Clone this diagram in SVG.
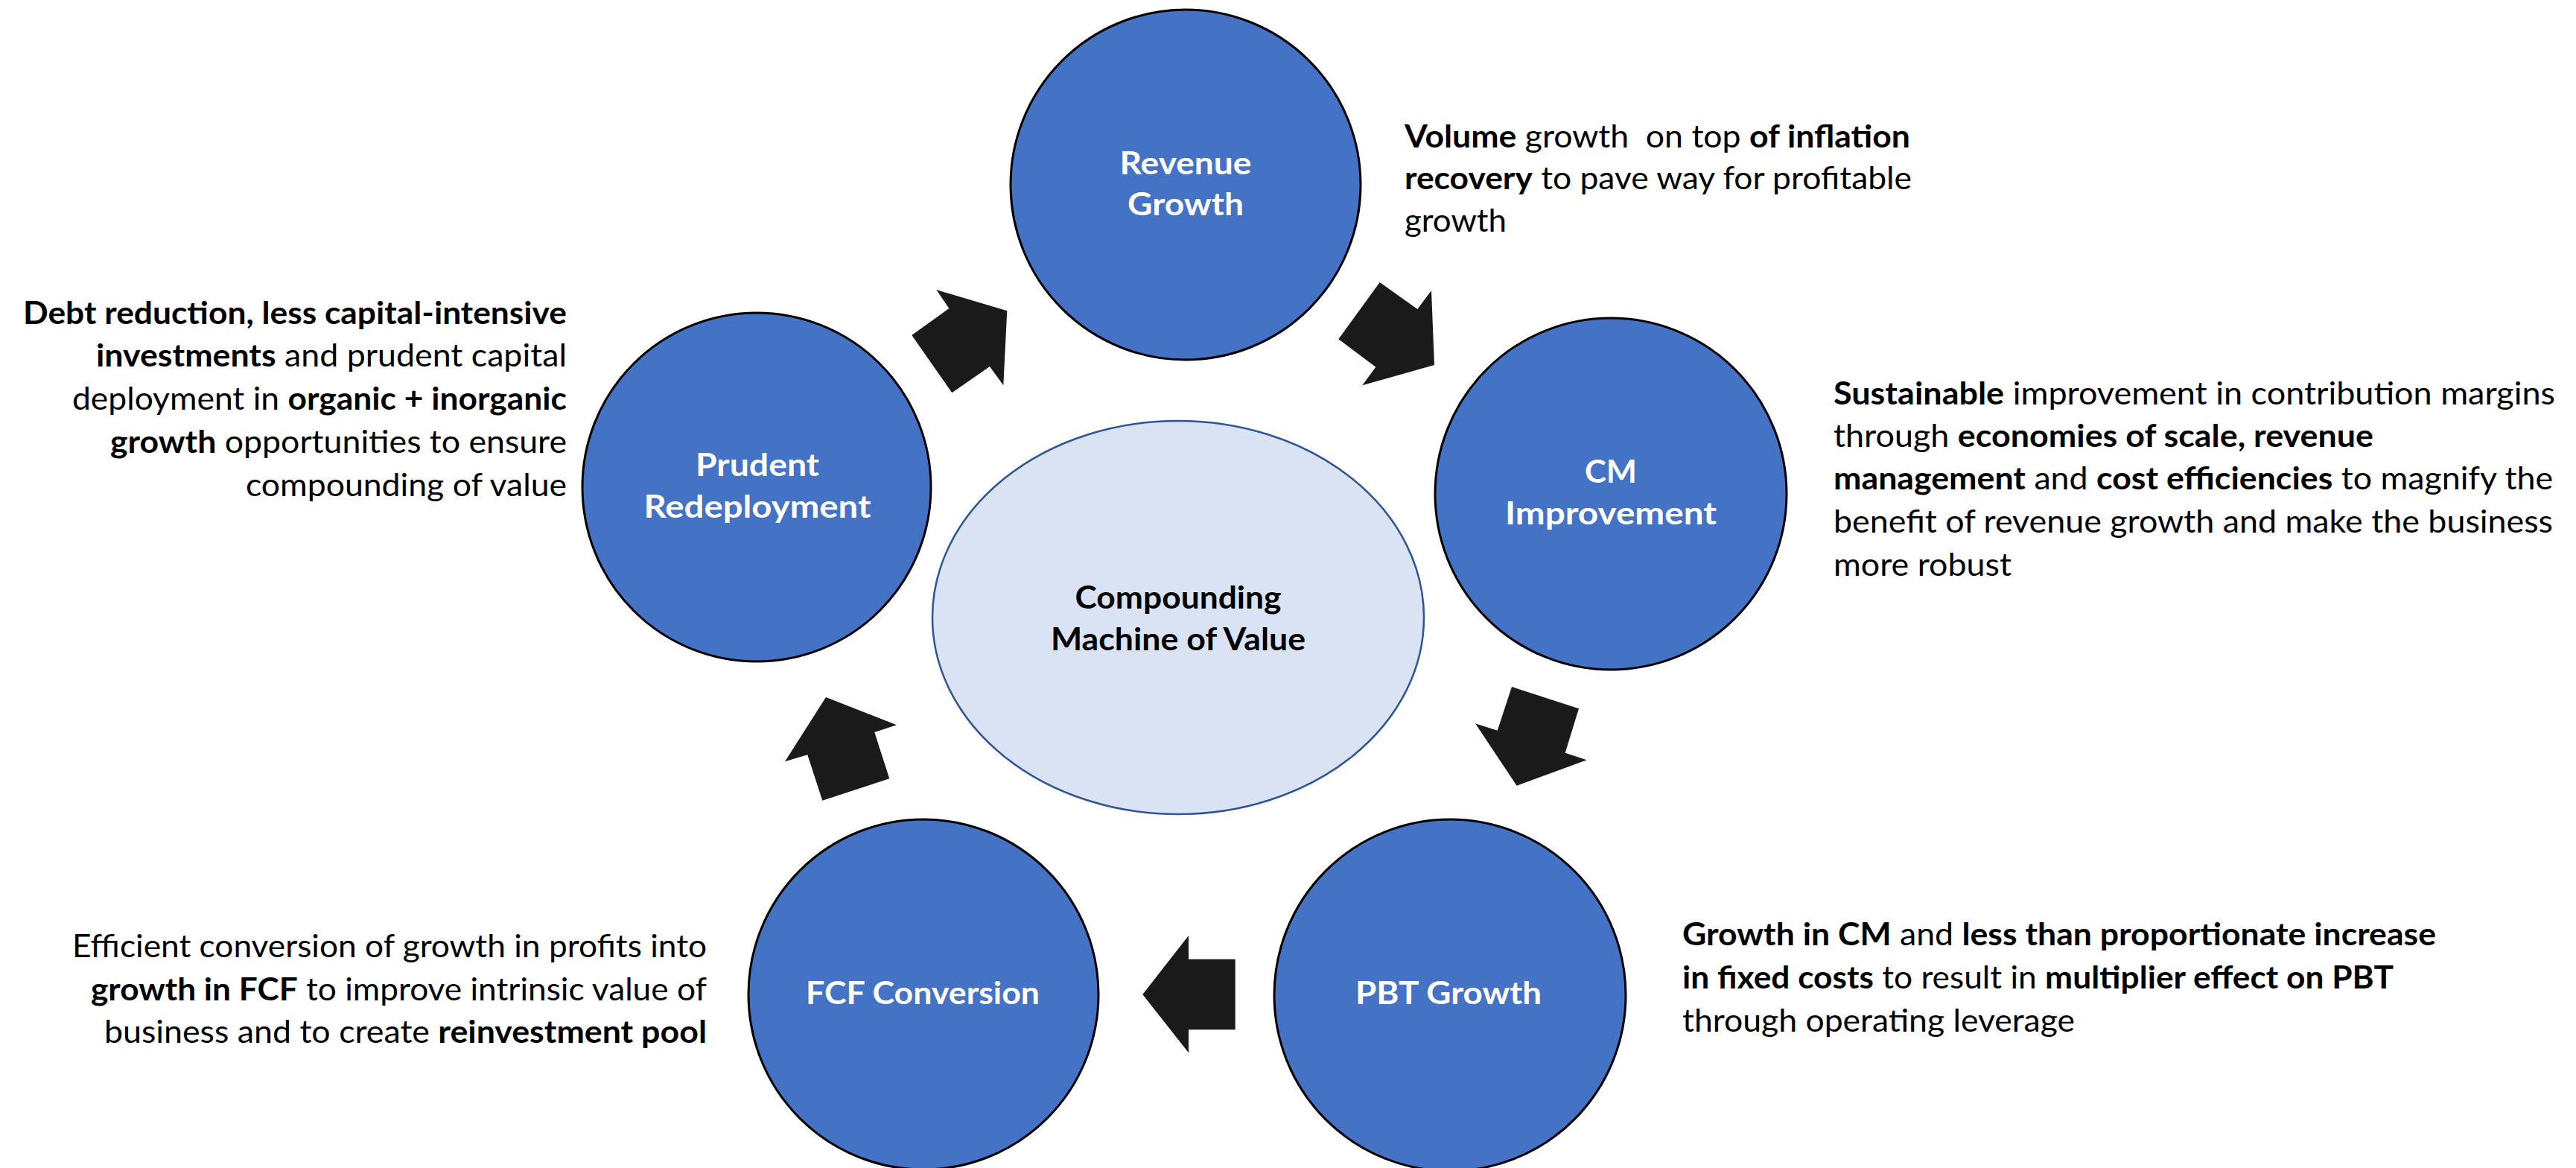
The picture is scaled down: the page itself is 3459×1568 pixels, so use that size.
<svg xmlns="http://www.w3.org/2000/svg" width="3459" height="1568" viewBox="0 0 3459 1568">
<style>
.node{fill:#4472C4;stroke:#000;stroke-width:3}
.hub{fill:#DAE3F3;stroke:#2F5597;stroke-width:2.5}
.nl{font-family:Lato,"Liberation Sans",sans-serif;font-weight:700;font-size:42px;fill:#fff;text-anchor:middle}
.hl{font-family:Lato,"Liberation Sans",sans-serif;font-weight:700;font-size:42px;fill:#000;text-anchor:middle}
.d{font-family:Lato,"Liberation Sans",sans-serif;font-size:42px;fill:#000}
.r{text-anchor:end}
.b{font-weight:700}
.arrow{fill:#1A1A1A}
</style>
<rect width="3459" height="1568" fill="#fff"/>
<g id="hub">
<ellipse class="hub" cx="1582" cy="829" rx="330" ry="264"/>
<text class="hl" x="1582" y="817" textLength="277" lengthAdjust="spacingAndGlyphs">Compounding</text>
<text class="hl" x="1582" y="873" textLength="342" lengthAdjust="spacingAndGlyphs">Machine of Value</text>
</g>
<g id="node-revenue">
<circle class="node" cx="1592" cy="248" r="235"/>
<text class="nl" x="1592" y="234" textLength="177" lengthAdjust="spacingAndGlyphs">Revenue</text>
<text class="nl" x="1592" y="289" textLength="156" lengthAdjust="spacingAndGlyphs">Growth</text>
</g>
<g id="node-cm">
<circle class="node" cx="2163" cy="663" r="236"/>
<text class="nl" x="2163" y="648" textLength="70" lengthAdjust="spacingAndGlyphs">CM</text>
<text class="nl" x="2163" y="704" textLength="284" lengthAdjust="spacingAndGlyphs">Improvement</text>
</g>
<g id="node-pbt">
<circle class="node" cx="1947" cy="1336" r="236"/>
<text class="nl" x="1945" y="1348" textLength="250" lengthAdjust="spacingAndGlyphs">PBT Growth</text>
</g>
<g id="node-fcf">
<circle class="node" cx="1240" cy="1335" r="235"/>
<text class="nl" x="1239" y="1348" textLength="314" lengthAdjust="spacingAndGlyphs">FCF Conversion</text>
</g>
<g id="node-prudent">
<circle class="node" cx="1016" cy="654" r="234"/>
<text class="nl" x="1017" y="639" textLength="166" lengthAdjust="spacingAndGlyphs">Prudent</text>
<text class="nl" x="1017" y="695" textLength="305" lengthAdjust="spacingAndGlyphs">Redeployment</text>
</g>
<g id="connectors">
<polygon class="arrow" points="1224.3,450 1278.3,527.3 1329,492 1347.3,517.3 1352.3,417.3 1257.3,389 1274.3,414"/>
<polygon class="arrow" points="1852.7,379 1797.3,455.3 1847.3,492.7 1829.3,517.3 1926,490 1922,390 1903.3,415"/>
<polygon class="arrow" points="2030,922 2120,951.3 2101.7,1010.7 2130.7,1020.3 2036.7,1054.7 1981,971.3 2010.7,980.7"/>
<polygon class="arrow" points="1534.3,1335 1596,1256 1596,1287.7 1658.7,1287.7 1658.7,1382.3 1596,1382.3 1596,1413.3"/>
<polygon class="arrow" points="1109,936 1204,973.3 1174.3,983 1194.3,1045.3 1104.3,1074.7 1084.3,1013.3 1054,1022.3"/>
</g>
<g id="desc-revenue">
<text class="d" x="1886" y="198" textLength="679" lengthAdjust="spacingAndGlyphs" xml:space="preserve"><tspan class="b">Volume</tspan> growth  on top <tspan class="b">of inflation</tspan></text>
<text class="d" x="1886" y="254" textLength="681" lengthAdjust="spacingAndGlyphs"><tspan class="b">recovery</tspan> to pave way for profitable</text>
<text class="d" x="1886" y="311" textLength="137" lengthAdjust="spacingAndGlyphs">growth</text>
</g>
<g id="desc-cm">
<text class="d" x="2462" y="543" textLength="969" lengthAdjust="spacingAndGlyphs"><tspan class="b">Sustainable</tspan> improvement in contribution margins</text>
<text class="d" x="2462" y="600" textLength="725" lengthAdjust="spacingAndGlyphs">through <tspan class="b">economies of scale, revenue</tspan></text>
<text class="d" x="2462" y="657" textLength="966" lengthAdjust="spacingAndGlyphs"><tspan class="b">management</tspan> and <tspan class="b">cost efficiencies</tspan> to magnify the</text>
<text class="d" x="2462" y="715" textLength="966" lengthAdjust="spacingAndGlyphs">benefit of revenue growth and make the business</text>
<text class="d" x="2462" y="773" textLength="239" lengthAdjust="spacingAndGlyphs">more robust</text>
</g>
<g id="desc-pbt">
<text class="d" x="2259" y="1269" textLength="1012" lengthAdjust="spacingAndGlyphs"><tspan class="b">Growth in CM</tspan> and <tspan class="b">less than proportionate increase</tspan></text>
<text class="d" x="2259" y="1327" textLength="955" lengthAdjust="spacingAndGlyphs"><tspan class="b">in fixed costs</tspan> to result in <tspan class="b">multiplier effect on PBT</tspan></text>
<text class="d" x="2259" y="1385" textLength="527" lengthAdjust="spacingAndGlyphs">through operating leverage</text>
</g>
<g id="desc-fcf">
<text class="d r" x="949" y="1285" textLength="852" lengthAdjust="spacingAndGlyphs">Efficient conversion of growth in profits into</text>
<text class="d r" x="949" y="1343" textLength="827" lengthAdjust="spacingAndGlyphs"><tspan class="b">growth in FCF</tspan> to improve intrinsic value of</text>
<text class="d r" x="949" y="1400" textLength="809" lengthAdjust="spacingAndGlyphs">business and to create <tspan class="b">reinvestment pool</tspan></text>
</g>
<g id="desc-prudent">
<text class="d r" x="761" y="435" textLength="730" lengthAdjust="spacingAndGlyphs"><tspan class="b">Debt reduction, less capital-intensive</tspan></text>
<text class="d r" x="761" y="492" textLength="632" lengthAdjust="spacingAndGlyphs"><tspan class="b">investments</tspan> and prudent capital</text>
<text class="d r" x="761" y="550" textLength="664" lengthAdjust="spacingAndGlyphs">deployment in <tspan class="b">organic + inorganic</tspan></text>
<text class="d r" x="761" y="608" textLength="613" lengthAdjust="spacingAndGlyphs"><tspan class="b">growth</tspan> opportunities to ensure</text>
<text class="d r" x="761" y="666" textLength="431" lengthAdjust="spacingAndGlyphs">compounding of value</text>
</g>
</svg>
